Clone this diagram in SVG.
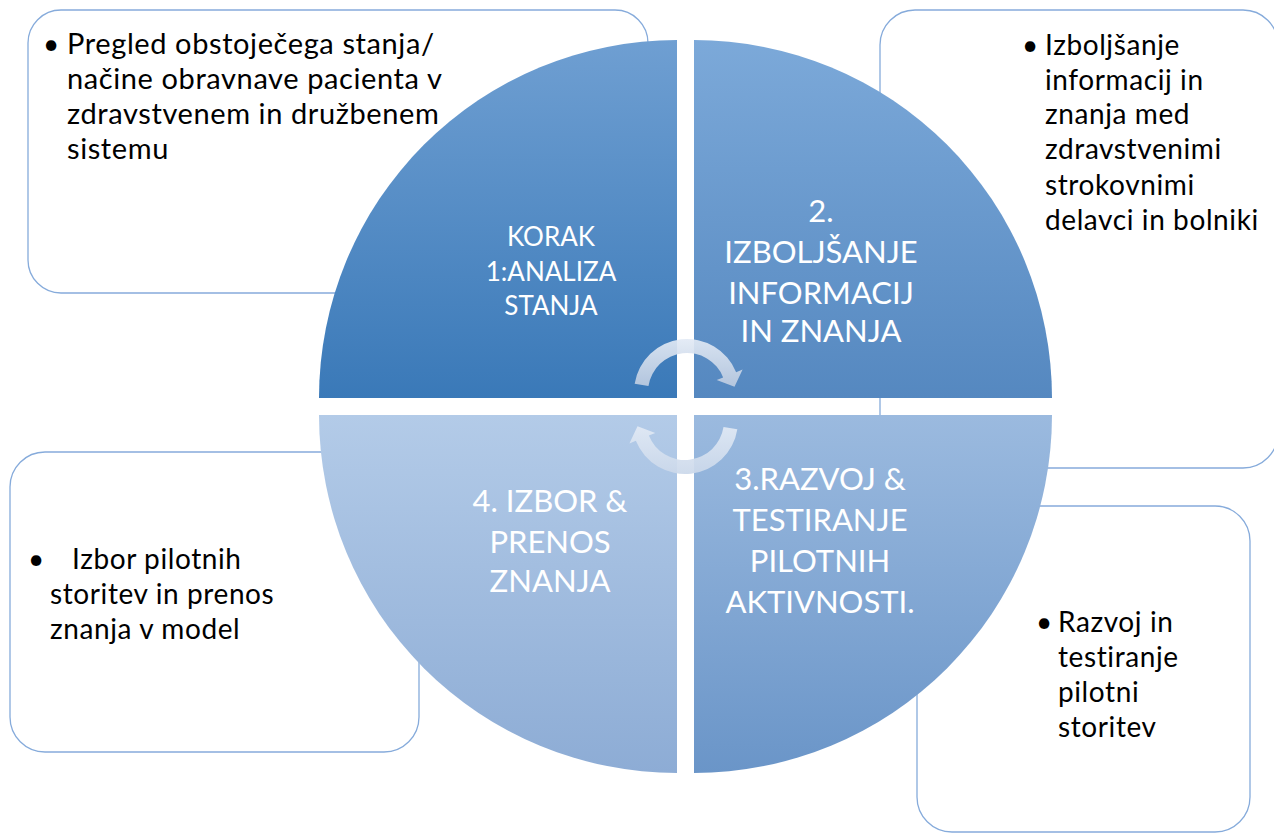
<svg xmlns="http://www.w3.org/2000/svg" width="1274" height="833" viewBox="0 0 1274 833">
  <defs>
    <linearGradient id="gTL" x1="0" y1="0" x2="0" y2="1">
      <stop offset="0" stop-color="#6f9fd2"/>
      <stop offset="1" stop-color="#3a79b8"/>
    </linearGradient>
    <linearGradient id="gTR" x1="0" y1="0" x2="0" y2="1">
      <stop offset="0" stop-color="#7ca9d9"/>
      <stop offset="1" stop-color="#5588c0"/>
    </linearGradient>
    <linearGradient id="gBL" x1="0" y1="0" x2="0" y2="1">
      <stop offset="0" stop-color="#b3cbe8"/>
      <stop offset="1" stop-color="#8dacd5"/>
    </linearGradient>
    <linearGradient id="gBR" x1="0" y1="0" x2="0" y2="1">
      <stop offset="0" stop-color="#9bbadf"/>
      <stop offset="1" stop-color="#6a95c8"/>
    </linearGradient>
    <linearGradient id="gArrA" x1="0" y1="0" x2="0" y2="1">
      <stop offset="0" stop-color="#e2eaf5"/>
      <stop offset="1" stop-color="#bccbe0"/>
    </linearGradient>
    <linearGradient id="gArrB" x1="0" y1="1" x2="0" y2="0">
      <stop offset="0" stop-color="#e2eaf5"/>
      <stop offset="1" stop-color="#cbd8ea"/>
    </linearGradient>
    <path id="arrowShape" d="M634.65,383.71 A53,53 0 0 1 736.14,372.15 L742.6,369.5 L734.5,386.8 L716.7,380.0 L723.16,377.39 A39,39 0 0 0 648.48,385.90 Z"/>
  </defs>
  <style>
    .box { fill: #ffffff; stroke: #86abdb; stroke-width: 1.3; }
    .bt { font-family: Lato, "Liberation Sans", sans-serif; font-size: 28px; letter-spacing: 0.6px; fill: #000000; }
    .bt1 { font-size: 29px; }
    .qt { font-family: Lato, "Liberation Sans", sans-serif; fill: #ffffff; text-anchor: middle; }
    .q1 { font-size: 26px; }
    .q2 { font-size: 31px; }
  </style>
  <rect width="1274" height="833" fill="#ffffff"/>

  <g id="box1">
    <rect class="box" x="28" y="10" width="620" height="283" rx="33" stroke="#79a3d6"/>
    <text class="bt" x="43" y="54">•</text>
    <text class="bt bt1"><tspan x="67" y="54">Pregled obstoječega stanja/</tspan><tspan x="67" y="89">načine obravnave pacienta v</tspan><tspan x="67" y="124">zdravstvenem in družbenem</tspan><tspan x="67" y="159">sistemu</tspan></text>
  </g>
  <g id="box2">
    <rect class="box" x="880" y="10" width="398" height="458" rx="35"/>
    <text class="bt" x="1022" y="55">•</text>
    <text class="bt"><tspan x="1045" y="55">Izboljšanje</tspan><tspan x="1045" y="90">informacij in</tspan><tspan x="1045" y="124">znanja med</tspan><tspan x="1045" y="159">zdravstvenimi</tspan><tspan x="1045" y="195">strokovnimi</tspan><tspan x="1045" y="230">delavci in bolniki</tspan></text>
  </g>
  <g id="box3">
    <rect class="box" x="10" y="452" width="409" height="300" rx="35" stroke="#a7c1e6"/>
    <text class="bt" x="28" y="569">•</text>
    <text class="bt"><tspan x="72" y="569">Izbor pilotnih</tspan><tspan x="50" y="604">storitev in prenos</tspan><tspan x="50" y="639">znanja v model</tspan></text>
  </g>
  <g id="box4">
    <rect class="box" x="917" y="506" width="333" height="326" rx="35" stroke="#8fb2de"/>
    <text class="bt" x="1036" y="632">•</text>
    <text class="bt"><tspan x="1058" y="632">Razvoj in</tspan><tspan x="1058" y="667">testiranje</tspan><tspan x="1058" y="702">pilotni</tspan><tspan x="1058" y="737">storitev</tspan></text>
  </g>

  <g id="q1">
    <path d="M677,398 L319,398 A358,358 0 0 1 677,40 Z" fill="url(#gTL)"/>
    <text class="qt q1"><tspan x="551" y="246">KORAK</tspan><tspan x="551" y="281">1:ANALIZA</tspan><tspan x="551" y="315">STANJA</tspan></text>
  </g>
  <g id="q2">
    <path d="M694,398 L694,40 A358,358 0 0 1 1052,398 Z" fill="url(#gTR)"/>
    <text class="qt q2"><tspan x="821" y="222">2.</tspan><tspan x="821" y="263">IZBOLJŠANJE</tspan><tspan x="821" y="304">INFORMACIJ</tspan><tspan x="821" y="342">IN ZNANJA</tspan></text>
  </g>
  <g id="q3">
    <path d="M694,415 L1052,415 A358,358 0 0 1 694,773 Z" fill="url(#gBR)"/>
    <text class="qt q2"><tspan x="820" y="490">3.RAZVOJ &amp;</tspan><tspan x="820" y="531">TESTIRANJE</tspan><tspan x="820" y="572">PILOTNIH</tspan><tspan x="820" y="613">AKTIVNOSTI.</tspan></text>
  </g>
  <g id="q4">
    <path d="M677,415 L677,773 A358,358 0 0 1 319,415 Z" fill="url(#gBL)"/>
    <text class="qt q2"><tspan x="550" y="512">4. IZBOR &amp;</tspan><tspan x="550" y="553">PRENOS</tspan><tspan x="550" y="592">ZNANJA</tspan></text>
  </g>

  <g id="connectors">
    <use href="#arrowShape" fill="url(#gArrA)" fill-opacity="0.92"/>
    <use href="#arrowShape" fill="url(#gArrB)" fill-opacity="0.92" transform="rotate(180 686 406.5)"/>
  </g>
</svg>
